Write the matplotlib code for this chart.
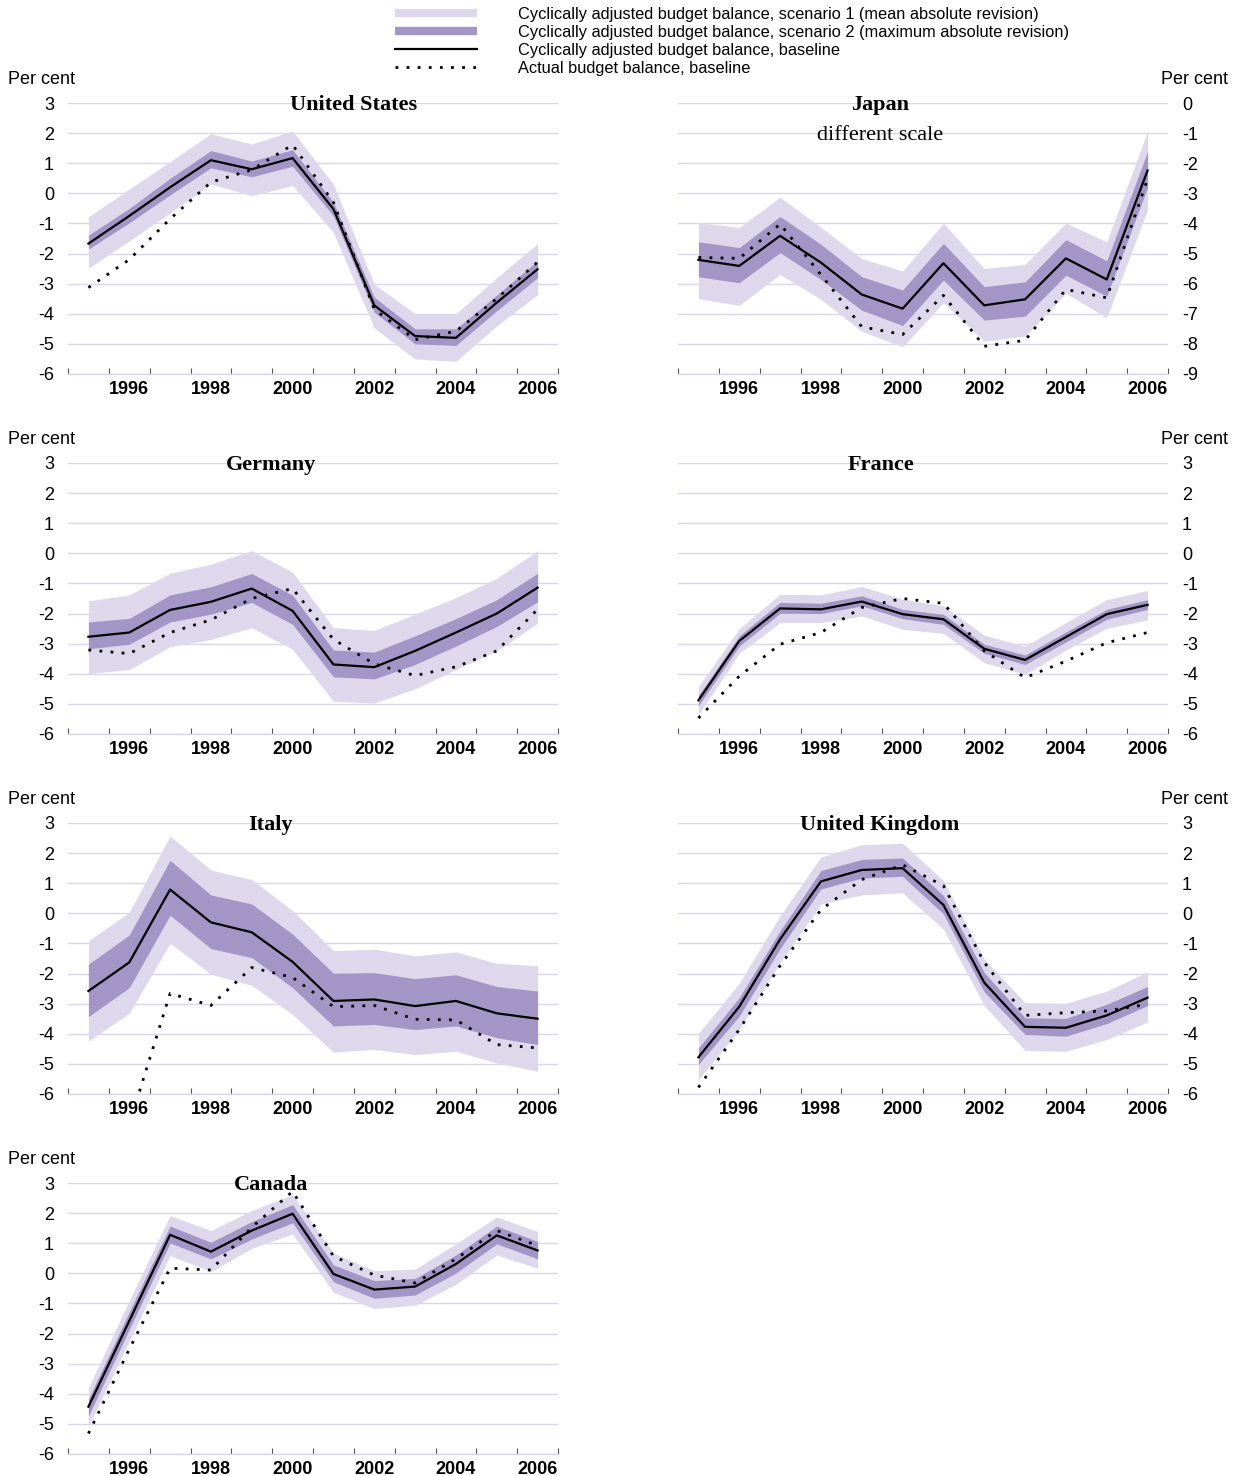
import matplotlib
matplotlib.use('Agg')
import matplotlib.pyplot as plt
from matplotlib.lines import Line2D
from matplotlib.ticker import FixedLocator

plt.rcParams['axes.unicode_minus'] = False

# Data (per cent of GDP)
years = list(range(1995, 2007))

us_base = [-1.67, -0.75, 0.2, 1.1, 0.8, 1.17, -0.52, -3.72, -4.74, -4.8, -3.63, -2.52]
us_act = [-3.13, -2.2, -0.85, 0.37, 0.78, 1.61, -0.3, -3.85, -4.86, -4.58, -3.5, -2.28]
us_s1_hi = [-0.78, 0.14, 1.05, 1.98, 1.64, 2.07, 0.3, -3.02, -4.0, -4.0, -2.8, -1.67]
us_s1_lo = [-2.49, -1.58, -0.65, 0.31, -0.08, 0.26, -1.3, -4.47, -5.5, -5.58, -4.4, -3.36]
us_s2_hi = [-1.39, -0.5, 0.5, 1.42, 1.07, 1.45, -0.3, -3.45, -4.5, -4.5, -3.38, -2.24]
us_s2_lo = [-1.85, -0.98, -0.05, 0.85, 0.55, 0.9, -0.75, -3.95, -5.0, -5.05, -3.9, -2.8]

jp_base = [-5.21, -5.41, -4.41, -5.3, -6.36, -6.83, -5.32, -6.72, -6.52, -5.16, -5.86, -2.24]
jp_act = [-5.13, -5.16, -4.02, -5.7, -7.43, -7.69, -6.39, -8.08, -7.88, -6.19, -6.47, -2.52]
jp_s1_hi = [-3.97, -4.13, -3.13, -4.13, -5.17, -5.58, -3.99, -5.5, -5.36, -3.99, -4.61, -0.94]
jp_s1_lo = [-6.5, -6.72, -5.69, -6.52, -7.58, -8.1, -6.63, -7.91, -7.74, -6.32, -7.13, -3.54]
jp_s2_hi = [-4.61, -4.8, -3.77, -4.69, -5.77, -6.21, -4.66, -6.1, -5.94, -4.54, -5.24, -1.61]
jp_s2_lo = [-5.77, -5.97, -4.97, -5.86, -6.88, -7.39, -5.88, -7.21, -7.08, -5.72, -6.41, -2.8]

de_base = [-2.77, -2.63, -1.88, -1.61, -1.17, -1.91, -3.69, -3.78, -3.24, -2.63, -2.0, -1.14]
de_act = [-3.21, -3.33, -2.63, -2.21, -1.5, -1.17, -2.86, -3.67, -4.06, -3.77, -3.24, -1.86]
de_s1_hi = [-1.58, -1.38, -0.66, -0.36, 0.09, -0.63, -2.47, -2.56, -2.02, -1.47, -0.83, 0.09]
de_s1_lo = [-3.99, -3.86, -3.1, -2.86, -2.47, -3.19, -4.91, -4.97, -4.5, -3.86, -3.24, -2.32]
de_s2_hi = [-2.28, -2.16, -1.38, -1.11, -0.67, -1.39, -3.21, -3.28, -2.74, -2.17, -1.54, -0.66]
de_s2_lo = [-3.17, -3.02, -2.28, -2.02, -1.63, -2.36, -4.1, -4.17, -3.69, -3.08, -2.43, -1.61]

fr_base = [-4.88, -2.91, -1.83, -1.86, -1.6, -2.02, -2.19, -3.17, -3.54, -2.78, -2.02, -1.71]
fr_act = [-5.47, -4.08, -3.02, -2.63, -1.8, -1.5, -1.66, -3.24, -4.13, -3.58, -2.97, -2.63]
fr_s1_hi = [-4.43, -2.5, -1.36, -1.38, -1.1, -1.52, -1.74, -2.72, -3.08, -2.3, -1.54, -1.23]
fr_s1_lo = [-5.36, -3.32, -2.3, -2.3, -2.08, -2.52, -2.66, -3.63, -4.02, -3.21, -2.49, -2.21]
fr_s2_hi = [-4.72, -2.74, -1.63, -1.66, -1.41, -1.86, -2.03, -3.02, -3.38, -2.61, -1.86, -1.54]
fr_s2_lo = [-5.06, -3.08, -1.99, -2.0, -1.74, -2.17, -2.36, -3.32, -3.69, -2.94, -2.19, -1.86]

it_base = [-2.58, -1.63, 0.79, -0.3, -0.63, -1.61, -2.91, -2.86, -3.08, -2.91, -3.32, -3.5]
it_act = [-7.5, -7.0, -2.66, -3.06, -1.8, -2.13, -3.1, -3.06, -3.52, -3.54, -4.36, -4.47]
it_s1_hi = [-0.91, 0.03, 2.57, 1.44, 1.12, 0.09, -1.24, -1.19, -1.41, -1.28, -1.66, -1.74]
it_s1_lo = [-4.24, -3.32, -0.99, -2.02, -2.39, -3.36, -4.61, -4.52, -4.69, -4.58, -4.97, -5.24]
it_s2_hi = [-1.69, -0.72, 1.76, 0.61, 0.31, -0.69, -1.99, -1.97, -2.17, -2.04, -2.43, -2.58]
it_s2_lo = [-3.43, -2.47, -0.06, -1.17, -1.47, -2.47, -3.74, -3.69, -3.86, -3.74, -4.13, -4.36]

uk_base = [-4.78, -3.1, -0.86, 1.06, 1.44, 1.5, 0.28, -2.3, -3.77, -3.8, -3.39, -2.8]
uk_act = [-5.78, -3.86, -1.74, 0.12, 1.12, 1.61, 0.92, -1.63, -3.39, -3.3, -3.24, -3.02]
uk_s1_hi = [-3.99, -2.32, -0.08, 1.87, 2.28, 2.33, 1.09, -1.52, -2.97, -2.99, -2.58, -1.94]
uk_s1_lo = [-5.52, -3.86, -1.63, 0.31, 0.61, 0.68, -0.52, -3.06, -4.56, -4.58, -4.19, -3.61]
uk_s2_hi = [-4.47, -2.8, -0.58, 1.42, 1.79, 1.84, 0.59, -1.97, -3.47, -3.49, -3.02, -2.43]
uk_s2_lo = [-5.02, -3.41, -1.17, 0.81, 1.17, 1.23, -0.02, -2.61, -4.02, -4.08, -3.66, -3.06]

ca_base = [-4.43, -1.58, 1.28, 0.72, 1.42, 1.98, -0.02, -0.54, -0.44, 0.31, 1.26, 0.76]
ca_act = [-5.32, -2.52, 0.17, 0.11, 1.53, 2.72, 0.57, -0.06, -0.32, 0.48, 1.42, 0.92]
ca_s1_hi = [-3.8, -0.91, 1.92, 1.42, 2.09, 2.61, 0.67, 0.09, 0.14, 0.98, 1.87, 1.39]
ca_s1_lo = [-5.08, -2.24, 0.59, 0.06, 0.83, 1.31, -0.63, -1.17, -1.06, -0.36, 0.61, 0.17]
ca_s2_hi = [-4.17, -1.28, 1.57, 1.03, 1.72, 2.28, 0.28, -0.24, -0.17, 0.61, 1.57, 1.06]
ca_s2_lo = [-4.74, -1.86, 1.01, 0.48, 1.14, 1.68, -0.28, -0.83, -0.72, 0.01, 0.98, 0.48]

legend_labels = [
    "Cyclically adjusted budget balance, scenario 1 (mean absolute revision)",
    "Cyclically adjusted budget balance, scenario 2 (maximum absolute revision)",
    "Cyclically adjusted budget balance, baseline",
    "Actual budget balance, baseline",
]

LIGHT = "#ddd8eb"
DARK = "#a395c6"
GRID = "#d9d5ec"
SANS = "Liberation Sans"
SERIF = "Liberation Serif"
DOTS = (0, (1, 3))

W, H = 1242, 1476
fig = plt.figure(figsize=(W / 100, H / 100), dpi=100)


def add_panel(col, row, title, tx, base, act, s1_lo, s1_hi, s2_lo, s2_hi,
              ymin=-6, ymax=3, note=None):
    left = 68 if col == 0 else 678
    top = 103 + 360 * row
    ax = fig.add_axes([left / W, 1 - (top + 271) / H, 490 / W, 271 / H])

    ax.fill_between(years, s1_lo, s1_hi, color=LIGHT, lw=0, zorder=2)
    ax.fill_between(years, s2_lo, s2_hi, color=DARK, lw=0, zorder=3)
    ax.plot(years, base, color="black", lw=1.6, zorder=4)
    ax.plot(years, act, color="black", lw=2.0, ls=DOTS, zorder=5)

    ax.set_xlim(1994.5, 2006.5)
    ax.set_ylim(ymin, ymax)
    ax.set_yticks(range(ymin, ymax + 1))
    ax.grid(axis="y", color=GRID, lw=1, zorder=1)
    ax.set_axisbelow(True)

    ax.xaxis.set_major_locator(FixedLocator([1996, 1998, 2000, 2002, 2004, 2006]))
    ax.xaxis.set_minor_locator(FixedLocator([y + 0.5 for y in range(1994, 2007)]))
    ax.tick_params(axis="x", which="major", length=0, pad=5, labelsize=13)
    ax.tick_params(axis="x", which="minor", direction="in", length=4,
                   width=0.8, color="#555555")
    for lab in ax.get_xticklabels():
        lab.set_fontweight("bold")
        lab.set_fontfamily(SANS)

    for side in ["top", "left", "right"]:
        ax.spines[side].set_visible(False)
    ax.spines["bottom"].set_color(GRID)
    ax.spines["bottom"].set_linewidth(1)

    if col == 0:
        ax.tick_params(axis="y", length=0, pad=10, labelsize=13)
        fig.text(8 / W, 1 - (top - 23) / H, "Per cent", ha="left", va="center",
                 fontsize=13, family=SANS)
    else:
        ax.yaxis.tick_right()
        ax.tick_params(axis="y", length=0, pad=10, labelsize=13)
        fig.text(1228 / W, 1 - (top - 23) / H, "Per cent", ha="right", va="center",
                 fontsize=13, family=SANS)
    for lab in ax.get_yticklabels():
        lab.set_fontfamily(SANS)

    ax.text(tx, 0.993, title, transform=ax.transAxes, ha="center", va="center",
            fontsize=16, fontweight="bold", family=SERIF, zorder=6)
    if note:
        ax.text(tx, 0.99 - 1.0 / (ymax - ymin), note, transform=ax.transAxes,
                ha="center", va="center", fontsize=16, family=SERIF, zorder=6)
    return ax


add_panel(0, 0, "United States", 0.582, us_base, us_act, us_s1_lo, us_s1_hi, us_s2_lo, us_s2_hi)
add_panel(1, 0, "Japan", 0.412, jp_base, jp_act, jp_s1_lo, jp_s1_hi, jp_s2_lo, jp_s2_hi,
          ymin=-9, ymax=0, note="different scale")
add_panel(0, 1, "Germany", 0.414, de_base, de_act, de_s1_lo, de_s1_hi, de_s2_lo, de_s2_hi)
add_panel(1, 1, "France", 0.414, fr_base, fr_act, fr_s1_lo, fr_s1_hi, fr_s2_lo, fr_s2_hi)
add_panel(0, 2, "Italy", 0.414, it_base, it_act, it_s1_lo, it_s1_hi, it_s2_lo, it_s2_hi)
add_panel(1, 2, "United Kingdom", 0.412, uk_base, uk_act, uk_s1_lo, uk_s1_hi, uk_s2_lo, uk_s2_hi)
add_panel(0, 3, "Canada", 0.414, ca_base, ca_act, ca_s1_lo, ca_s1_hi, ca_s2_lo, ca_s2_hi)

# Legend at the top
handles = [
    Line2D([], [], color=LIGHT, lw=6, solid_capstyle="butt"),
    Line2D([], [], color=DARK, lw=6, solid_capstyle="butt"),
    Line2D([], [], color="black", lw=1.6),
    Line2D([], [], color="black", lw=2.0, ls=DOTS),
]
fig.legend(handles, legend_labels, loc="upper left",
           bbox_to_anchor=(395 / W, 1 - 7 / H), frameon=False,
           prop={"family": SANS, "size": 11.8}, handlelength=5.0,
           handletextpad=2.5, labelspacing=0.18, borderpad=0, borderaxespad=0)

fig.savefig("out.png", dpi=100, facecolor="white")
